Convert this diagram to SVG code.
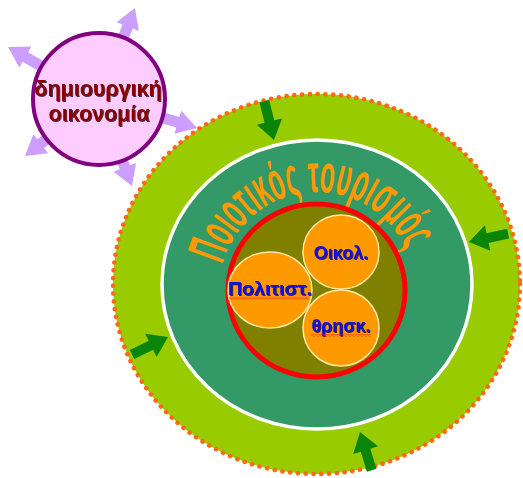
<svg xmlns="http://www.w3.org/2000/svg" xmlns:xlink="http://www.w3.org/1999/xlink" width="523" height="478" viewBox="0 0 523 478">
<style>
.lbl{font-family:"Liberation Sans",Arial,sans-serif;font-weight:bold;fill:#0A0AF0;font-size:18px}
.arc{font-family:"Liberation Sans",Arial,sans-serif;font-weight:bold;fill:#FF9900;font-size:54px}
.bub{font-family:"Liberation Sans",Arial,sans-serif;font-weight:bold;fill:#880000;font-size:21.5px}
.orb{fill:#FF9900;stroke:#FFE8A0;stroke-width:1.5}
.ga{fill:#0A850A}
.la{fill:#CC9EFF}
</style>
<defs>
<filter id="sh" x="-10%" y="-20%" width="130%" height="150%">
<feDropShadow dx="1" dy="1" stdDeviation="0.4" flood-color="#000" flood-opacity="0.75"/>
</filter>
<pattern id="wavy" patternUnits="userSpaceOnUse" width="4" height="3">
<path d="M0,2.4 L2,0.6 L4,2.4" fill="none" stroke="#FF2020" stroke-width="0.8"/>
</pattern>
<polygon id="garrow" points="-40,-5 -19,-5 -19,-13 0,0 -19,13 -19,5 -40,5"/>
<polygon id="larrow" points="-46,-5.5 -20,-5.5 -20,-12 0,0 -20,12 -20,5.5 -46,5.5"/>
<path id="arcpath" d="M222.3,264.6 A98,98 0 0,1 406.5,250.1"/>
</defs>

<g id="ring">
<ellipse cx="316.5" cy="284" rx="203.5" ry="190" fill="#99CC00"/>
<ellipse cx="316.5" cy="284" rx="203.5" ry="190" fill="none" stroke="#FF6A10" stroke-width="4.6" stroke-linecap="round" stroke-dasharray="0.1 7.7"/>
</g>

<g id="quality-tourism">
<ellipse cx="317" cy="284.5" rx="155" ry="144.5" fill="#339966" stroke="#FFFFFF" stroke-width="3.5"/>
<text class="arc"><textPath xlink:href="#arcpath" href="#arcpath" textLength="241" lengthAdjust="spacingAndGlyphs">Ποιοτικός τουρισμός</textPath></text>
</g>

<g id="core">
<ellipse cx="316.5" cy="290.5" rx="88.5" ry="86.5" fill="#808000" stroke="#FF0000" stroke-width="5"/>
</g>

<g id="eco">
<ellipse class="orb" cx="341" cy="252" rx="38" ry="37"/>
<text class="lbl" x="341" y="259" text-anchor="middle" filter="url(#sh)">Οικολ.</text>
</g>

<g id="culture">
<ellipse class="orb" cx="270" cy="290" rx="42" ry="38"/>
<text class="lbl" x="228" y="295" textLength="84" lengthAdjust="spacingAndGlyphs" filter="url(#sh)">Πολιτιστ.</text>
<rect x="229" y="296.5" width="80" height="3" fill="url(#wavy)"/>
</g>

<g id="religion">
<ellipse class="orb" cx="341" cy="328" rx="38" ry="38"/>
<text class="lbl" x="341" y="332" text-anchor="middle" filter="url(#sh)">θρησκ.</text>
<rect x="311" y="334" width="60" height="3" fill="url(#wavy)"/>
</g>

<g id="connectors">
<use href="#garrow" class="ga" transform="translate(274,140) rotate(76)"/>
<use href="#garrow" class="ga" transform="translate(469,242) rotate(168)"/>
<use href="#garrow" class="ga" transform="translate(168,337) rotate(-26)"/>
<use href="#garrow" class="ga" transform="translate(360,432) rotate(-107)"/>
<use href="#larrow" class="la" transform="translate(135,8) rotate(-68.4)"/>
<use href="#larrow" class="la" transform="translate(8,47) rotate(-150)"/>
<use href="#larrow" class="la" transform="translate(197,128) rotate(16.5)"/>
<use href="#larrow" class="la" transform="translate(25,156) rotate(142)"/>
<use href="#larrow" class="la" transform="translate(132,186) rotate(69)"/>
</g>

<g id="creative-economy">
<circle cx="99" cy="99" r="66" fill="#FFCCFF" stroke="#800080" stroke-width="4"/>
<text class="bub" x="98" y="96" text-anchor="middle" filter="url(#sh)">δημιουργική</text>
<text class="bub" x="99" y="121" text-anchor="middle" filter="url(#sh)">οικονομία</text>
</g>
</svg>
